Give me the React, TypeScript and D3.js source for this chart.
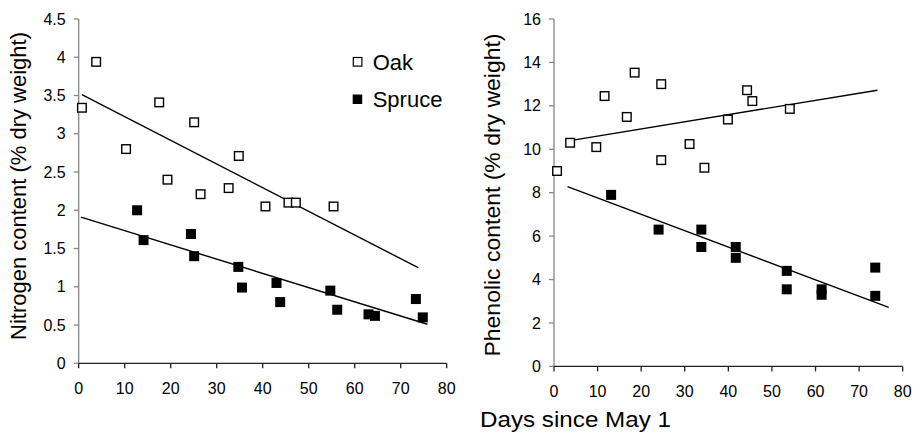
import React from "react";
import * as d3 from "d3";

// ---- Data ----
const dayTicks = [0, 10, 20, 30, 40, 50, 60, 70, 80];
const nitrogenTicks = [0, 0.5, 1, 1.5, 2, 2.5, 3, 3.5, 4, 4.5];
const phenolicTicks = [0, 2, 4, 6, 8, 10, 12, 14, 16];

const nOakDays = [0.7, 3.8, 10.3, 17.5, 19.3, 25.1, 26.5, 32.6, 34.8, 40.6, 45.6, 47.2, 55.4];
const nOakValues = [3.34, 3.94, 2.8, 3.41, 2.4, 3.15, 2.21, 2.29, 2.71, 2.05, 2.1, 2.1, 2.05];
const nSpruceDays = [12.7, 14.1, 24.4, 25.1, 34.7, 35.5, 43.0, 43.8, 54.7, 56.2, 63.0, 64.4, 73.3, 74.8];
const nSpruceValues = [2.0, 1.61, 1.69, 1.4, 1.26, 0.99, 1.05, 0.8, 0.95, 0.7, 0.64, 0.62, 0.84, 0.6];

const pOakDays = [0.7, 3.7, 9.7, 11.6, 16.7, 18.5, 24.6, 24.6, 31.1, 34.5, 39.9, 44.3, 45.5, 54.1];
const pOakValues = [9.0, 10.3, 10.1, 12.45, 11.49, 13.53, 13.0, 9.5, 10.24, 9.15, 11.37, 12.72, 12.22, 11.86];
const pSpruceDays = [13.1, 24.0, 33.8, 33.8, 41.7, 41.7, 53.4, 53.4, 61.4, 61.4, 73.7, 73.7];
const pSpruceValues = [7.9, 6.3, 6.3, 5.5, 5.5, 5.0, 4.4, 3.55, 3.55, 3.3, 4.55, 3.25];

// trend lines: [start day, end day], [start value, end value]
const nOakTrendDays = [0.7, 73.8];
const nOakTrendValues = [3.51, 1.25];
const nSpruceTrendDays = [0.5, 75.8];
const nSpruceTrendValues = [1.91, 0.51];
const pOakTrendDays = [4.4, 74.2];
const pOakTrendValues = [10.42, 12.72];
const pSpruceTrendDays = [3.1, 76.8];
const pSpruceTrendValues = [8.28, 2.72];

const FONT = "'Liberation Sans', Arial, Helvetica, sans-serif";

type Panel = {
  x0: number;
  x1: number;
  yTop: number;
  yBottom: number;
  yMax: number;
  yTicks: number[];
  oakX: number[];
  oakY: number[];
  spruceX: number[];
  spruceY: number[];
  oakTX: number[];
  oakTY: number[];
  spruceTX: number[];
  spruceTY: number[];
  fmt: (v: number) => string;
};

function ScatterPanel(p: Panel) {
  const x = d3.scaleLinear().domain([0, 80]).range([p.x0, p.x1]);
  const y = d3.scaleLinear().domain([0, p.yMax]).range([p.yBottom, p.yTop]);
  const line = d3
    .line<[number, number]>()
    .x((d) => x(d[0]))
    .y((d) => y(d[1]));
  const oakT: [number, number][] = p.oakTX.map((d, i) => [d, p.oakTY[i]]);
  const spruceT: [number, number][] = p.spruceTX.map((d, i) => [d, p.spruceTY[i]]);
  const s = 10;
  return (
    <g>
      {/* y axis */}
      <line x1={x(0)} x2={x(0)} y1={y(p.yMax)} y2={y(0)} stroke="#868686" strokeWidth={1.3} />
      {p.yTicks.map((t) => (
        <g key={"y" + t}>
          <line x1={x(0) - 5} x2={x(0)} y1={y(t)} y2={y(t)} stroke="#868686" strokeWidth={1.3} />
          <text
            x={x(0) - 13}
            y={y(t)}
            dy="0.35em"
            textAnchor="end"
            fontSize={16}
            fontFamily={FONT}
            fill="#000"
          >
            {p.fmt(t)}
          </text>
        </g>
      ))}
      {/* x axis */}
      <line x1={x(0)} x2={x(80)} y1={y(0)} y2={y(0)} stroke="#222" strokeWidth={1.3} />
      {dayTicks.map((t) => (
        <g key={"x" + t}>
          <line x1={x(t)} x2={x(t)} y1={y(0)} y2={y(0) + 5} stroke="#222" strokeWidth={1.3} />
          <text
            x={x(t)}
            y={y(0) + 25}
            dy="0.35em"
            textAnchor="middle"
            fontSize={16}
            fontFamily={FONT}
            fill="#000"
          >
            {t}
          </text>
        </g>
      ))}
      {/* trend lines */}
      <path d={line(oakT) || ""} stroke="#000" strokeWidth={1.4} fill="none" />
      <path d={line(spruceT) || ""} stroke="#000" strokeWidth={1.4} fill="none" />
      {/* oak points */}
      {p.oakX.map((d, i) => (
        <rect
          key={"o" + i}
          x={x(d) - (s - 1.4) / 2}
          y={y(p.oakY[i]) - (s - 1.4) / 2}
          width={s - 1.4}
          height={s - 1.4}
          fill="#fff"
          stroke="#000"
          strokeWidth={1.4}
        />
      ))}
      {/* spruce points */}
      {p.spruceX.map((d, i) => (
        <rect
          key={"s" + i}
          x={x(d) - s / 2}
          y={y(p.spruceY[i]) - s / 2}
          width={s}
          height={s}
          fill="#000"
        />
      ))}
    </g>
  );
}

export default function App() {
  const fmtN = d3.format("");
  return (
    <svg
      width={918}
      height={434}
      style={{ position: "absolute", left: 0, top: 0, background: "#fff" }}
    >
      <rect x={0} y={0} width={918} height={434} fill="#fff" />
      <ScatterPanel
        x0={78.7}
        x1={446.7}
        yTop={19}
        yBottom={363.3}
        yMax={4.5}
        yTicks={nitrogenTicks}
        oakX={nOakDays}
        oakY={nOakValues}
        spruceX={nSpruceDays}
        spruceY={nSpruceValues}
        oakTX={nOakTrendDays}
        oakTY={nOakTrendValues}
        spruceTX={nSpruceTrendDays}
        spruceTY={nSpruceTrendValues}
        fmt={(v) => fmtN(v)}
      />
      <ScatterPanel
        x0={554}
        x1={902.7}
        yTop={19}
        yBottom={366.4}
        yMax={16}
        yTicks={phenolicTicks}
        oakX={pOakDays}
        oakY={pOakValues}
        spruceX={pSpruceDays}
        spruceY={pSpruceValues}
        oakTX={pOakTrendDays}
        oakTY={pOakTrendValues}
        spruceTX={pSpruceTrendDays}
        spruceTY={pSpruceTrendValues}
        fmt={(v) => fmtN(v)}
      />
      {/* axis titles */}
      <text
        transform="translate(26,186) rotate(-90)"
        textAnchor="middle"
        fontSize={22}
        fontFamily={FONT}
        textLength={308}
        lengthAdjust="spacingAndGlyphs"
        fill="#000"
      >
        Nitrogen content (% dry weight)
      </text>
      <text
        transform="translate(500,195) rotate(-90)"
        textAnchor="middle"
        fontSize={22}
        fontFamily={FONT}
        textLength={323}
        lengthAdjust="spacingAndGlyphs"
        fill="#000"
      >
        Phenolic content (% dry weight)
      </text>
      <text
        x={480}
        y={427}
        fontSize={22}
        fontFamily={FONT}
        textLength={191}
        lengthAdjust="spacingAndGlyphs"
        fill="#000"
      >
        Days since May 1
      </text>
      {/* legend */}
      <rect x={353.3} y={57.5} width={8.6} height={8.6} fill="#fff" stroke="#000" strokeWidth={1.2} />
      <text x={372.7} y={62} dy="0.35em" fontSize={22} fontFamily={FONT} fill="#000">
        Oak
      </text>
      <rect x={352.7} y={94.5} width={9.5} height={9.5} fill="#000" />
      <text x={372.7} y={99} dy="0.35em" fontSize={22} fontFamily={FONT} fill="#000">
        Spruce
      </text>
    </svg>
  );
}
